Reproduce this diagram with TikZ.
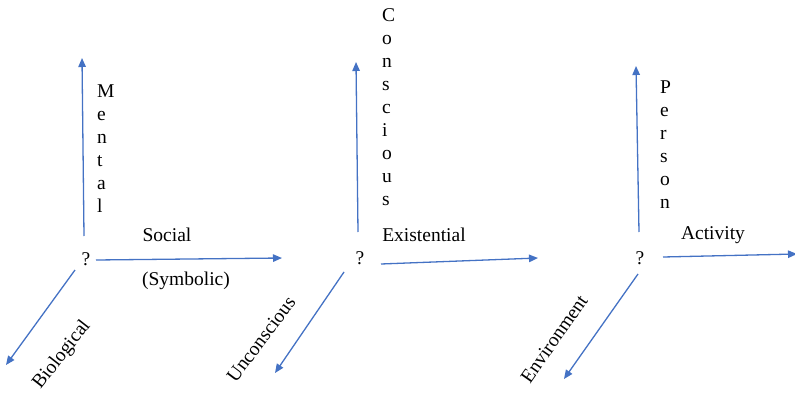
\documentclass[tikz,border=0pt]{standalone}
\usepackage{fontspec}
\setmainfont{Liberation Serif}
\usetikzlibrary{arrows.meta}
\definecolor{arrowblue}{HTML}{4472C4}
\tikzset{
  axis/.style={draw=arrowblue, line width=1.3pt, -{Triangle[length=9pt,width=7.5pt]}},
  lbl/.style={inner sep=0pt, font=\fontsize{19.5}{23}\selectfont},
  stack/.style={lbl, align=left, anchor=north west},
}
\begin{document}
\begin{tikzpicture}[x=1pt,y=-1pt]
\useasboundingbox (0,0) rectangle (795,396);
% group 1
\node[lbl] (q1) at (86,259) {?};
\coordinate (u1s) at (84,236); \coordinate (u1e) at (82,58);
\coordinate (h1s) at (96,260); \coordinate (h1e) at (282,258);
\coordinate (d1s) at (75,270); \coordinate (d1e) at (6,365);
\draw[axis] (u1s) -- (u1e);
\draw[axis] (h1s) -- (h1e);
\draw[axis] (d1s) -- (d1e);
\node[stack] (mental) at (97,85) {M\\e\\n\\t\\a\\l};
\node[lbl] (social) at (167,235) {Social};
\node[lbl] (symb) at (186,281) {(Symbolic)};
\node[lbl, rotate=52] (bio) at (62,355) {Biological};
% group 2
\node[lbl] (q2) at (360,258) {?};
\coordinate (u2s) at (358,232); \coordinate (u2e) at (356,62);
\coordinate (h2s) at (381,264); \coordinate (h2e) at (538,258);
\coordinate (d2s) at (344,272); \coordinate (d2e) at (275,373);
\draw[axis] (u2s) -- (u2e);
\draw[axis] (h2s) -- (h2e);
\draw[axis] (d2s) -- (d2e);
\node[stack] (consc) at (382,8) {C\\o\\n\\s\\c\\i\\o\\u\\s};
\node[lbl] (exist) at (424,235) {Existential};
\node[lbl, rotate=53] (uncon) at (261,339) {Unconscious};
% group 3
\node[lbl] (q3) at (640,258) {?};
\coordinate (u3s) at (639,232); \coordinate (u3e) at (636,66);
\coordinate (h3s) at (663,257); \coordinate (h3e) at (797,254);
\coordinate (d3s) at (638,274); \coordinate (d3e) at (564,379);
\draw[axis] (u3s) -- (u3e);
\draw[axis] (h3s) -- (h3e);
\draw[axis] (d3s) -- (d3e);
\node[stack] (person) at (660,81) {P\\e\\r\\s\\o\\n};
\node[lbl] (activity) at (713,235) {Activity};
\node[lbl, rotate=55] (env) at (554,339) {Environment};
\end{tikzpicture}
\end{document}
